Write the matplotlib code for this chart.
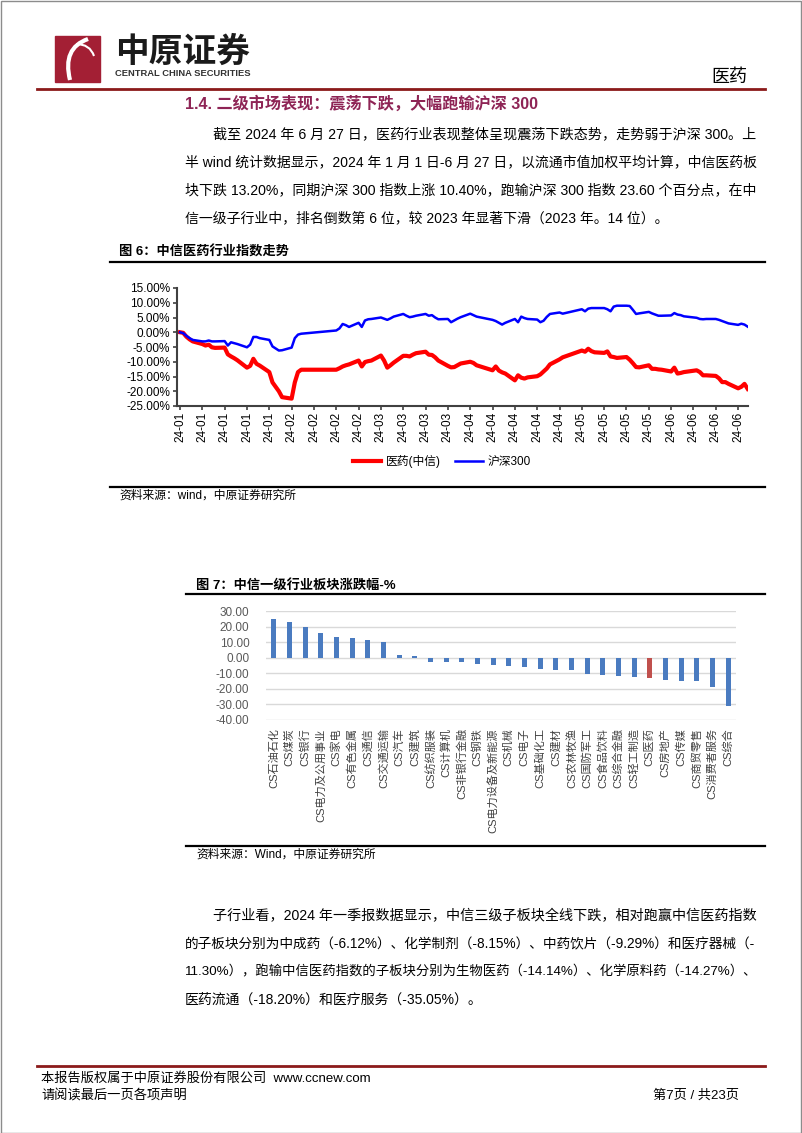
import matplotlib
matplotlib.use("Agg")
import matplotlib.pyplot as plt
import matplotlib.dates as mdates
from matplotlib.lines import Line2D
from matplotlib.patches import Rectangle, PathPatch
from matplotlib.path import Path
from matplotlib.ticker import FuncFormatter
import pandas as pd

plt.rcParams['font.family'] = ['Liberation Sans', 'Noto Sans CJK SC']

# ---- figure 6 data: index change since 2024-01-01 (%) ----
trade_days = [
    "2024-01-01",
    "2024-01-02", "2024-01-03", "2024-01-04", "2024-01-05",
    "2024-01-08", "2024-01-09", "2024-01-10", "2024-01-11", "2024-01-12",
    "2024-01-15", "2024-01-16", "2024-01-17", "2024-01-18", "2024-01-19",
    "2024-01-22", "2024-01-23", "2024-01-24", "2024-01-25", "2024-01-26",
    "2024-01-29", "2024-01-30", "2024-01-31", "2024-02-01", "2024-02-02",
    "2024-02-05", "2024-02-06", "2024-02-07", "2024-02-08",
    "2024-02-19", "2024-02-20", "2024-02-21", "2024-02-22", "2024-02-23",
    "2024-02-26", "2024-02-27", "2024-02-28", "2024-02-29", "2024-03-01",
    "2024-03-04", "2024-03-05", "2024-03-06", "2024-03-07", "2024-03-08",
    "2024-03-11", "2024-03-12", "2024-03-13", "2024-03-14", "2024-03-15",
    "2024-03-18", "2024-03-19", "2024-03-20", "2024-03-21", "2024-03-22",
    "2024-03-25", "2024-03-26", "2024-03-27", "2024-03-28", "2024-03-29",
    "2024-04-01", "2024-04-02", "2024-04-03",
    "2024-04-08", "2024-04-09", "2024-04-10", "2024-04-11", "2024-04-12",
    "2024-04-15", "2024-04-16", "2024-04-17", "2024-04-18", "2024-04-19",
    "2024-04-22", "2024-04-23", "2024-04-24", "2024-04-25", "2024-04-26",
    "2024-04-29", "2024-04-30",
    "2024-05-06", "2024-05-07", "2024-05-08", "2024-05-09", "2024-05-10",
    "2024-05-13", "2024-05-14", "2024-05-15", "2024-05-16", "2024-05-17",
    "2024-05-20", "2024-05-21", "2024-05-22", "2024-05-23", "2024-05-24",
    "2024-05-27", "2024-05-28", "2024-05-29", "2024-05-30", "2024-05-31",
    "2024-06-03", "2024-06-04", "2024-06-05", "2024-06-06", "2024-06-07",
    "2024-06-11", "2024-06-12", "2024-06-13", "2024-06-14",
    "2024-06-17", "2024-06-18", "2024-06-19", "2024-06-20", "2024-06-21",
    "2024-06-24", "2024-06-25", "2024-06-26", "2024-06-27",
]
yiyao = [
    0.0,
    -0.2, -1.5, -2.4, -3.1,
    -4.0, -4.5, -4.2, -5.1, -5.3,
    -5.2, -7.5, -8.2, -8.8, -9.5,
    -12.0, -11.4, -9.0, -10.7, -11.3,
    -13.5, -17.0, -18.5, -20.0, -22.0,
    -22.5, -17.0, -13.5, -12.7,
    -12.7, -12.2, -11.6, -11.2, -10.9,
    -9.6, -11.6, -10.1, -9.8, -9.6,
    -7.9, -9.6, -12.0, -11.2, -10.3,
    -8.0, -8.0, -8.2, -7.6, -7.1,
    -6.6, -7.6, -7.7, -8.5, -9.6,
    -11.4, -11.9, -11.8, -11.2, -10.6,
    -10.0, -10.4, -11.2,
    -12.9, -11.6, -13.0, -13.6, -14.0,
    -16.3, -14.6, -15.4, -15.7, -15.3,
    -14.9, -14.3, -13.3, -12.3, -10.9,
    -9.2, -8.5,
    -6.2, -6.6, -5.6, -6.4, -6.8,
    -7.0, -6.5, -8.2, -8.4, -8.7,
    -8.4, -9.3, -10.5, -11.8, -11.9,
    -11.2, -12.4, -12.4, -12.6, -12.7,
    -13.3, -12.0, -14.0, -13.8, -13.5,
    -12.9, -13.5, -14.6, -14.6,
    -14.8, -15.6, -16.9, -16.9, -17.5,
    -19.0, -18.5, -17.5, -19.2,
]
hs300 = [
    0.0,
    -0.3, -1.2, -2.0, -2.6,
    -3.1, -3.1, -2.8, -3.1, -3.1,
    -3.0, -4.5, -3.4, -3.7, -4.0,
    -5.1, -4.2, -1.6, -1.6, -2.0,
    -2.6, -4.8, -5.5, -6.2, -6.1,
    -5.2, -2.0, -0.8, -0.5,
    0.6, 1.3, 2.8, 2.4, 1.8,
    3.2, 1.8, 4.0, 4.4, 4.5,
    5.0, 4.6, 4.2, 4.7, 5.3,
    6.2, 5.6, 5.1, 5.3, 5.6,
    6.2, 5.6, 5.8, 5.0, 4.4,
    4.5, 3.4, 4.0, 4.6, 5.1,
    6.3, 5.8, 5.3,
    4.2, 3.8, 3.2, 2.6, 3.2,
    4.5, 3.4, 5.3, 4.8, 4.5,
    4.3, 3.4, 3.9, 5.2, 6.2,
    6.7, 6.3,
    7.8, 7.1, 8.0, 8.2, 8.2,
    8.2, 7.8, 7.1, 8.7, 9.0,
    9.0, 8.9, 7.6, 6.2, 6.4,
    6.9, 6.4, 6.0, 5.6, 5.6,
    5.7, 6.5, 6.0, 5.8, 5.4,
    4.9, 4.5, 4.4, 4.5,
    4.5, 4.2, 3.8, 3.4, 3.0,
    2.5, 2.9, 2.6, 1.9,
]
line_labels = ["医药(中信)", "沪深300"]

# ---- figure 7 data ----
industries = ["CS石油石化", "CS煤炭", "CS银行", "CS电力及公用事业", "CS家电",
              "CS有色金属", "CS通信", "CS交通运输", "CS汽车", "CS建筑",
              "CS纺织服装", "CS计算机", "CS非银行金融", "CS钢铁", "CS电力设备及新能源",
              "CS机械", "CS电子", "CS基础化工", "CS建材", "CS农林牧渔",
              "CS国防军工", "CS食品饮料", "CS综合金融", "CS轻工制造", "CS医药",
              "CS房地产", "CS传媒", "CS商贸零售", "CS消费者服务", "CS综合"]
changes = [24.8, 23.2, 20.0, 15.6, 13.0, 12.6, 11.3, 10.2, 1.9, 1.3,
           -2.6, -2.9, -3.0, -3.9, -4.9, -5.5, -6.0, -7.0, -7.9, -8.2,
           -10.6, -11.1, -12.0, -12.3, -13.2, -14.0, -14.8, -15.1, -18.5, -30.7]
highlight = "CS医药"

# ---- page text ----
heading = "1.4. 二级市场表现：震荡下跌，大幅跑输沪深 300"
para1 = [
    "截至 2024 年 6 月 27 日，医药行业表现整体呈现震荡下跌态势，走势弱于沪深 300。上",
    "半 wind 统计数据显示，2024 年 1 月 1 日-6 月 27 日，以流通市值加权平均计算，中信医药板",
    "块下跌 13.20%，同期沪深 300 指数上涨 10.40%，跑输沪深 300 指数 23.60 个百分点，在中",
    "信一级子行业中，排名倒数第 6 位，较 2023 年显著下滑（2023 年。14 位）。",
]
para2 = [
    "子行业看，2024 年一季报数据显示，中信三级子板块全线下跌，相对跑赢中信医药指数",
    "的子板块分别为中成药（-6.12%）、化学制剂（-8.15%）、中药饮片（-9.29%）和医疗器械（-",
    "11.30%），跑输中信医药指数的子板块分别为生物医药（-14.14%）、化学原料药（-14.27%）、",
    "医药流通（-18.20%）和医疗服务（-35.05%）。",
]

W, H = 802, 1133
fig = plt.figure(figsize=(W / 100, H / 100), dpi=100)
renderer = fig.canvas.get_renderer()


def fx(x):
    return x / W


def fy(y):
    return 1 - y / H


def put(x, y, s, size, right=None, **kw):
    t = fig.text(fx(x), fy(y), s, fontsize=size, va='center', **kw)
    if right is not None:
        w = t.get_window_extent(renderer).width
        t.set_fontsize(size * (right - x) / w)
    return t


def hline(y, x0, x1, color='black', lw=1.5):
    fig.add_artist(Line2D([fx(x0), fx(x1)], [fy(y), fy(y)],
                          transform=fig.transFigure, color=color, lw=lw))


# page frame
fig.add_artist(Rectangle((0.5 / W, 0.5 / H), (W - 1.5) / W, (H - 1.5) / H, fill=False,
                         edgecolor='#8c8c8c', lw=1, transform=fig.transFigure))

# header logo
fig.add_artist(Rectangle((fx(55), fy(82)), 45 / W, 46 / H, color='#a31f34',
                         transform=fig.transFigure))
swirl = Path([(fx(88), fy(39)), (fx(62), fy(48)), (fx(70), fy(80))],
             [Path.MOVETO, Path.CURVE3, Path.CURVE3])
fig.add_artist(PathPatch(swirl, fill=False, edgecolor='white', lw=3,
                         transform=fig.transFigure))
curl = Path([(fx(76), fy(44)), (fx(90), fy(44)), (fx(94), fy(56))],
            [Path.MOVETO, Path.CURVE3, Path.CURVE3])
fig.add_artist(PathPatch(curl, fill=False, edgecolor='white', lw=1.5,
                         transform=fig.transFigure))
put(115, 53, "中原证券", 24, right=250, fontweight='bold', color='#1a1a1a')
put(115, 74, "CENTRAL CHINA SECURITIES", 7, right=250, fontweight='bold', color='#333333')
put(747, 77, "医药", 13, ha='right')
hline(89, 37, 765, color='#8b1a1a', lw=2)

# section text
put(185, 104, heading, 12, right=537, fontweight='bold', color='#8e2455')
para_y = [134, 162, 190, 218]
for i, (s, y) in enumerate(zip(para1, para_y)):
    x0 = 213 if i == 0 else 185
    put(x0, y, s, 10, right=755 if i < 3 else None)

# ---- figure 6 ----
put(119, 252, "图 6：中信医药行业指数走势", 9.5, fontweight='bold')
hline(262, 110, 765, lw=1.6)

ax1 = fig.add_axes([fx(177), fy(406), (748 - 177) / W, (406 - 288) / H])
days = pd.to_datetime(trade_days)
ax1.plot(days, yiyao, color='#ff0000', lw=3.0, solid_joinstyle='round', label=line_labels[0])
ax1.plot(days, hs300, color='#0000ff', lw=1.8, solid_joinstyle='round', label=line_labels[1])
ax1.set_ylim(-25, 15)
ax1.set_yticks(range(-25, 16, 5))
ax1.yaxis.set_major_formatter(FuncFormatter(lambda v, p: f"{v:.2f}%"))
start = mdates.date2num(pd.Timestamp("2024-01-01"))
ax1.set_xlim(start - 0.94, mdates.date2num(pd.Timestamp("2024-06-27")) + 0.1)
ax1.xaxis.set_major_locator(mdates.WeekdayLocator(byweekday=mdates.MO))
ax1.xaxis.set_major_formatter(mdates.DateFormatter("%y-%m"))
for sp in ['top', 'right']:
    ax1.spines[sp].set_visible(False)
for sp in ['left', 'bottom']:
    ax1.spines[sp].set_color('#404040')
    ax1.spines[sp].set_linewidth(1.5)
ax1.tick_params(axis='both', direction='out', length=3, width=1.2, color='#404040',
                labelsize=8.5, pad=2)
ax1.tick_params(axis='x', labelrotation=90, pad=1)
ax1.patch.set_visible(False)
fig.legend(*ax1.get_legend_handles_labels(), loc='center', ncol=2, frameon=False,
           bbox_to_anchor=(fx(442), fy(462)), bbox_transform=fig.transFigure,
           fontsize=8.5, handlelength=2.4, handletextpad=0.4, columnspacing=1.2)

hline(487, 110, 765, lw=1.6)
put(119, 496, "资料来源：wind，中原证券研究所", 8.5)

# ---- figure 7 ----
put(196, 585, "图 7：中信一级行业板块涨跌幅-%", 9.5, fontweight='bold')
hline(594, 186, 765, lw=1.6)

ax2 = fig.add_axes([fx(266), fy(720), (736 - 266) / W, (720 - 611) / H])
bar_colors = ['#c0504d' if n == highlight else '#4a7bc0' for n in industries]
ax2.bar(range(len(industries)), changes, width=0.32, color=bar_colors, zorder=2)
ax2.set_xlim(-0.5, len(industries) - 0.5)
ax2.set_ylim(-40, 30)
ax2.set_yticks(range(-40, 31, 10))
ax2.yaxis.set_major_formatter(FuncFormatter(lambda v, p: f"{v:.2f}"))
ax2.set_xticks(range(len(industries)))
ax2.set_xticklabels(industries, rotation=90, va='top', ha='center')
ax2.grid(axis='y', color='#d9d9d9', lw=1, zorder=0)
ax2.set_axisbelow(True)
for sp in ax2.spines.values():
    sp.set_visible(False)
ax2.tick_params(axis='y', length=0, pad=12, labelsize=8.5, labelcolor='#595959')
ax2.tick_params(axis='x', length=0, pad=6, labelsize=8, labelcolor='#404040')
ax2.patch.set_visible(False)

hline(846, 186, 765, lw=1.6)
put(196, 855, "资料来源：Wind，中原证券研究所", 8.5)

# closing paragraph
para2_y = [916, 944, 972, 1000]
for i, (s, y) in enumerate(zip(para2, para2_y)):
    x0 = 213 if i == 0 else 185
    put(x0, y, s, 10, right=755 if i < 3 else None)

# footer
hline(1066, 37, 765, color='#8b1a1a', lw=2)
put(41, 1078, "本报告版权属于中原证券股份有限公司  www.ccnew.com", 9.5)
put(41, 1096, "请阅读最后一页各项声明", 9.5)
put(739, 1096, "第7页 / 共23页", 9.5, ha='right')

fig.savefig("out.png", dpi=100)
